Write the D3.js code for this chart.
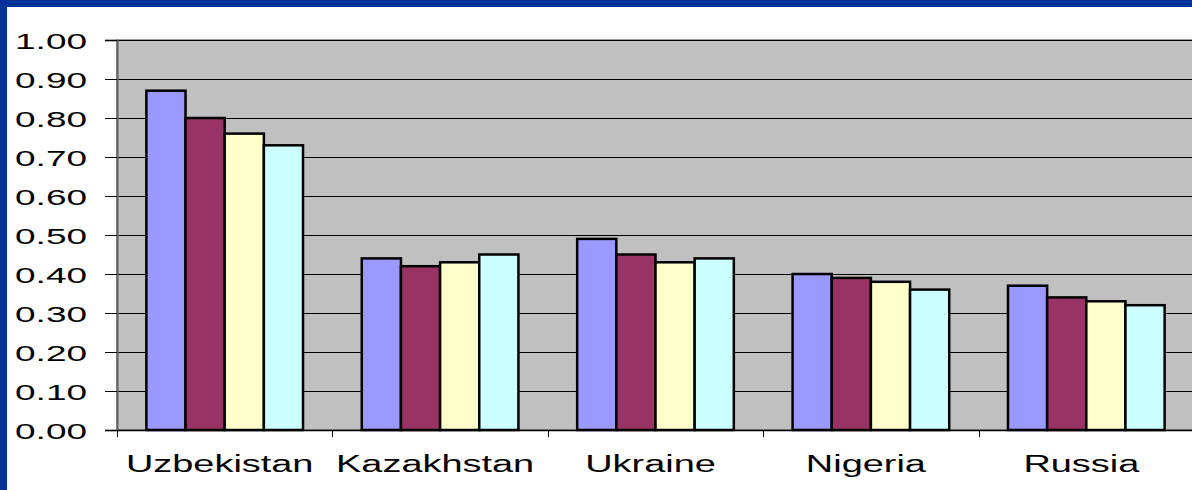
<!DOCTYPE html>
<html>
<head>
<meta charset="utf-8">
<script src="https://cdn.jsdelivr.net/npm/d3@7"></script>
<style>
  html, body { margin: 0; padding: 0; background: #fff; }
  svg text { font-family: "Liberation Sans", Arial, sans-serif; fill: #000; }
</style>
</head>
<body>
<div id="chart"></div>
<script>
// chart values
var countries = ["Uzbekistan", "Kazakhstan", "Ukraine", "Nigeria", "Russia"];
var seriesNames = ["s1", "s2", "s3", "s4"];
var series1 = [0.87, 0.44, 0.49, 0.40, 0.37];
var series2 = [0.80, 0.42, 0.45, 0.39, 0.34];
var series3 = [0.76, 0.43, 0.43, 0.38, 0.33];
var series4 = [0.73, 0.45, 0.44, 0.36, 0.32];
var yTicks = [0, 0.1, 0.2, 0.3, 0.4, 0.5, 0.6, 0.7, 0.8, 0.9, 1.0];
var colors = ["#9999ff", "#993366", "#ffffcc", "#ccffff"];

var W = 1192, H = 490;
var margin = { top: 40, left: 117 },
    plotW = 1077,
    plotH = 390;

var svg = d3.select("#chart").append("svg")
    .attr("width", W)
    .attr("height", H);

// blue frame (top + left)
svg.append("rect").attr("x", 0).attr("y", 0).attr("width", W).attr("height", 7).attr("fill", "#003399");
svg.append("rect").attr("x", 0).attr("y", 0).attr("width", 7).attr("height", H).attr("fill", "#003399");

var g = svg.append("g")
    .attr("transform", "translate(" + margin.left + "," + margin.top + ")");

var x = d3.scaleBand().domain(countries).range([0, plotW]).padding(0);
// excel style gap width 150%
var barW = x.bandwidth() / 5.5;
var xs = d3.scaleBand().domain(seriesNames)
    .range([barW * 0.75, barW * 4.75]).padding(0);
var y = d3.scaleLinear().domain([0, 1]).range([plotH, 0]);

// plot background
g.append("rect")
    .attr("width", plotW).attr("height", plotH)
    .attr("fill", "#c0c0c0")
    .attr("stroke", "#808080").attr("stroke-width", 1.5);

// gridlines
g.selectAll(".grid")
    .data(yTicks.slice(1))
    .enter().append("line")
    .attr("x1", 0).attr("x2", plotW)
    .attr("y1", function (d) { return Math.round(y(d)) + 0.5; })
    .attr("y2", function (d) { return Math.round(y(d)) + 0.5; })
    .attr("stroke", "#000").attr("stroke-width", 1);

// bars
var allSeries = [series1, series2, series3, series4];
var rows = [];
countries.forEach(function (c, i) {
    allSeries.forEach(function (s, j) {
        rows.push({ country: c, key: seriesNames[j], value: s[i], color: colors[j] });
    });
});
g.selectAll(".bar")
    .data(rows)
    .enter().append("rect")
    .attr("class", "bar")
    .attr("x", function (d) { return x(d.country) + xs(d.key); })
    .attr("width", xs.bandwidth())
    .attr("y", function (d) { return y(d.value); })
    .attr("height", function (d) { return plotH - y(d.value); })
    .attr("fill", function (d) { return d.color; })
    .attr("stroke", "#000").attr("stroke-width", 2.5);

// y axis
var yAxis = g.append("g")
    .call(d3.axisLeft(y).tickValues(yTicks).tickSize(12).tickFormat(d3.format(".2f")));
yAxis.select(".domain").attr("stroke", "#606060").attr("stroke-width", 2);
yAxis.selectAll(".tick line").attr("stroke", "#000");
yAxis.selectAll(".tick text")
    .attr("x", null).attr("dy", null)
    .attr("text-anchor", "end")
    .attr("font-size", 22)
    .attr("transform", "translate(-30,8) scale(1.68,1)");

// x axis
var xAxis = g.append("g")
    .attr("transform", "translate(0," + plotH + ")")
    .call(d3.axisBottom(x).tickSize(0).tickPadding(0));
xAxis.select(".domain").attr("stroke", "#000").attr("stroke-width", 1.5);
xAxis.selectAll(".tick text")
    .attr("y", null).attr("dy", null)
    .attr("text-anchor", "middle")
    .attr("font-size", 24)
    .attr("transform", "translate(-5,42) scale(1.58,1)");
// boundary ticks between categories
xAxis.selectAll(".sep")
    .data(countries)
    .enter().append("line")
    .attr("x1", function (d) { return Math.round(x(d)) + 0.5; })
    .attr("x2", function (d) { return Math.round(x(d)) + 0.5; })
    .attr("y1", 0).attr("y2", 7)
    .attr("stroke", "#000");
</script>
</body>
</html>
